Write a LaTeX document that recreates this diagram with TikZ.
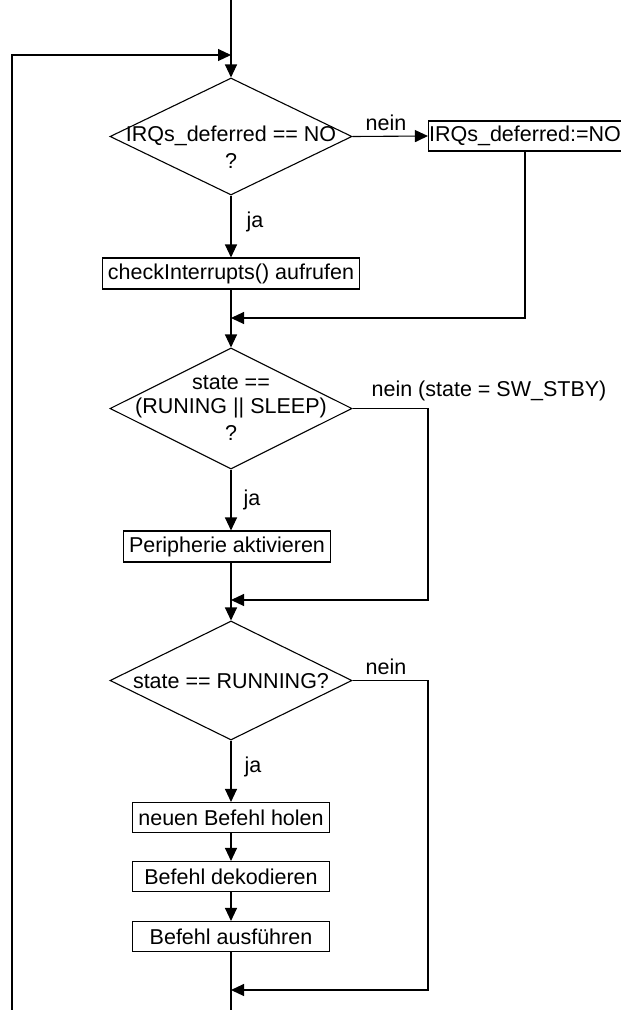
\documentclass[tikz,border=0pt]{standalone}
\usepackage{fontspec}
\setmainfont{Liberation Sans}
\usetikzlibrary{arrows.meta,shapes.geometric}
\begin{document}
\begin{tikzpicture}[x=1pt,y=-1pt,
  font=\fontsize{21.5}{25}\selectfont,
  line width=1.1pt,
  box/.style={draw, rectangle, minimum height=30pt, inner sep=0pt},
  dec/.style={draw, diamond, inner sep=0pt, minimum width=242pt},
  lbl/.style={inner sep=0pt},
  arr/.style={-{Triangle[length=13pt,width=12pt]}}]
\useasboundingbox (0,0) rectangle (621,1010);

% main column
\coordinate (top) at (231,0);
\coordinate (m0) at (231,55);
\coordinate (m1) at (231,318);
\coordinate (m2) at (231,600);
\coordinate (m3) at (231,990);
\coordinate (bot) at (231,1010);

% first decision
\node[dec, minimum height=117pt] (d1) at (231,136.5) {};
\node[lbl] (d1a) at (231,136) {IRQs\_deferred == NO};
\node[lbl] (d1b) at (231,161) {?};
\node[box, minimum width=193pt, minimum height=30pt] (b1) at (525,136) {IRQs\_deferred:=NO};
\node[lbl] (n1) at (386,123) {nein};
\node[lbl] (j1) at (255,222) {ja};
\node[box, minimum width=257pt, minimum height=31pt] (b2) at (231,273.5) {checkInterrupts() aufrufen};

% second decision
\node[dec, minimum height=121pt] (d2) at (231,408.5) {};
\node[lbl] (d2a) at (231,383) {state ==};
\node[lbl] (d2b) at (231,408) {(RUNING || SLEEP)};
\node[lbl] (d2c) at (231,433) {?};
\node[lbl] (n2) at (489,391) {nein (state = SW\_STBY)};
\coordinate (r2) at (428,408.5);
\node[lbl] (j2) at (252,500) {ja};
\node[box, minimum width=207pt, minimum height=31pt] (b3) at (227,546.5) {Peripherie aktivieren};

% third decision
\node[dec, minimum height=119pt] (d3) at (231,680.5) {};
\node[lbl] (d3a) at (231,681) {state == RUNNING?};
\node[lbl] (n3) at (386,667) {nein};
\coordinate (r3) at (428,680.5);
\node[lbl] (j3) at (253,767) {ja};
\node[box, minimum width=197pt] (b4) at (231,817.5) {neuen Befehl holen};
\node[box, minimum width=197pt] (b5) at (231,876.5) {Befehl dekodieren};
\node[box, minimum width=197pt] (b6) at (231,936.5) {Befehl ausführen};

% loop back on the left
\coordinate (l0) at (12,1010);
\coordinate (l1) at (12,55);

% connectors
\draw[arr] (top) -- (d1.north);
\draw[arr] (l0) -- (l1) -- (m0);
\draw[arr] (d1.east) -- (b1.west);
\draw[arr] (d1.south) -- (b2.north);
\draw (b2.south) -- (m1);
\draw[arr] (b1.south) |- (m1);
\draw[arr] (m1) -- (d2.north);
\draw[arr] (d2.south) -- (b3.north -| d2.south);
\draw (b3.south -| d2.south) -- (m2);
\draw[arr] (d2.east) -- (r2) |- (m2);
\draw[arr] (m2) -- (d3.north);
\draw[arr] (d3.south) -- (b4.north);
\draw[arr] (b4.south) -- (b5.north);
\draw[arr] (b5.south) -- (b6.north);
\draw (b6.south) -- (bot);
\draw[arr] (d3.east) -- (r3) |- (m3);
\end{tikzpicture}
\end{document}
